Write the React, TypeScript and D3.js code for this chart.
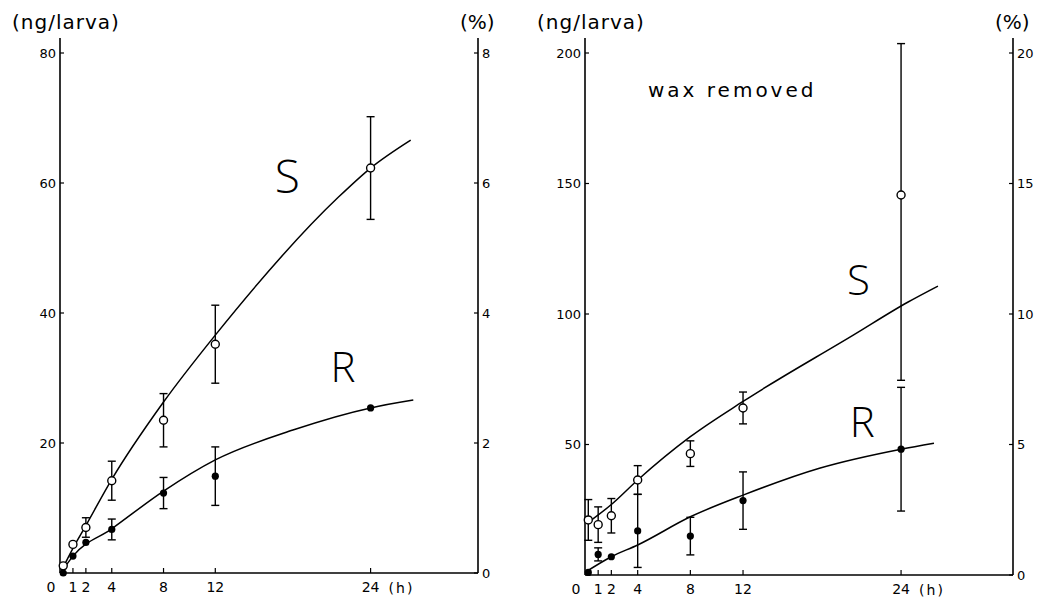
import * as d3 from "d3";

const hours = [0.25, 1, 2, 4, 8, 12, 24];

// left panel: intact larvae (ng/larva)
const intactS = [1.1, 4.4, 7.0, 14.2, 23.5, 35.2, 62.3];
const intactSErrUp = [0, 0, 1.5, 3.0, 4.1, 6.0, 7.9];
const intactSErrDown = [0, 0, 1.5, 3.0, 4.1, 6.0, 7.9];
const intactR = [0, 2.6, 4.7, 6.7, 12.3, 14.9, 25.4];
const intactRErrUp = [0, 0, 0, 1.6, 2.4, 4.5, 0];
const intactRErrDown = [0, 0, 0, 1.6, 2.4, 4.5, 0];

// fitted curves
const intactSFitT = [0.1, 1, 2, 4, 8, 12, 21.5, 24, 27.1];
const intactSFitV = [0.3, 3.8, 7.3, 14.4, 26.3, 36.6, 57.8, 62.3, 66.6];
const intactRFitT = [0.1, 1, 4, 8, 12, 18, 24, 27.3];
const intactRFitV = [0.1, 2.6, 6.8, 12.6, 17.4, 22, 25.4, 26.6];

// right panel: wax removed
const waxS = [21.1, 19.3, 22.7, 36.4, 46.5, 64, 145.6];
const waxSErrUp = [7.8, 6.8, 6.6, 5.5, 4.9, 6.1, 58];
const waxSErrDown = [7.8, 6.8, 6.6, 5.5, 4.9, 6.1, 71];
const waxR = [1, 7.9, 7.0, 16.9, 14.9, 28.5, 48.2];
const waxRErrUp = [0, 2.5, 0, 14, 7.2, 11, 23.7];
const waxRErrDown = [0, 2.5, 0, 14, 7.2, 11, 23.7];

const waxSFitT = [0.2, 2, 4, 8, 12, 20.4, 24.5, 26.8];
const waxSFitV = [20, 27, 36.4, 53, 66.5, 92, 104.5, 110.7];
const waxRFitT = [0, 2, 4, 8, 12, 17.8, 24, 26.5];
const waxRFitV = [1, 7, 11.5, 22.3, 30.6, 40.9, 48.2, 50.5];

const xTicks = [1, 2, 4, 8, 12, 24];
const intactLeftTicks = [20, 40, 60, 80];
const intactPctTicks = [0, 2, 4, 6, 8];
const waxLeftTicks = [50, 100, 150, 200];
const waxPctTicks = [0, 5, 10, 15, 20];

const font = "'DejaVu Sans', sans-serif";
const letterFont = "'Open Sans', 'DejaVu Sans', sans-serif";

function ErrorBars({ x, y, t, v, up, down }) {
  return (
    <g stroke="#000" strokeWidth={1.4}>
      {t.map((d, i) => {
        if (!up[i] && !down[i]) return null;
        const cx = x(d);
        const y1 = y(v[i] + up[i]);
        const y2 = y(v[i] - down[i]);
        return (
          <g key={i}>
            <line x1={cx} x2={cx} y1={y1} y2={y2} />
            <line x1={cx - 4} x2={cx + 4} y1={y1} y2={y1} />
            <line x1={cx - 4} x2={cx + 4} y1={y2} y2={y2} />
          </g>
        );
      })}
    </g>
  );
}

function Panel({ g, yMax, pctMax, leftTicks, pctTicks, s, sUp, sDown, r, rUp, rDown, sFit, rFit, labels, children }) {
  const x = d3.scaleLinear().domain([0, g.xMax]).range([g.left, g.right]);
  const y = d3.scaleLinear().domain([0, yMax]).range([g.bottom, g.yTop]);
  const yp = d3.scaleLinear().domain([0, pctMax]).range([g.bottom, g.yTop]);
  const line = d3
    .line<[number, number]>()
    .x((d) => x(d[0]))
    .y((d) => y(d[1]))
    .curve(d3.curveMonotoneX);
  const fitPts = (tt, vv) => tt.map((d, i) => [d, vv[i]] as [number, number]);

  return (
    <g>
      {/* axes */}
      <g stroke="#000" strokeWidth={1.6} fill="none">
        <line x1={g.left} x2={g.left} y1={g.top} y2={g.bottom} />
        <line x1={g.right} x2={g.right} y1={g.top} y2={g.bottom} />
        <line x1={g.left} x2={g.right} y1={g.bottom} y2={g.bottom} />
      </g>
      <g stroke="#000" strokeWidth={1.2}>
        {leftTicks.map((d) => (
          <line key={d} x1={g.left} x2={g.left + 4} y1={y(d)} y2={y(d)} />
        ))}
        {pctTicks.map((d) => (
          <line key={d} x1={g.right - 4} x2={g.right} y1={yp(d)} y2={yp(d)} />
        ))}
        {xTicks.map((d) => (
          <line key={d} x1={x(d)} x2={x(d)} y1={g.bottom} y2={g.bottom - 5} />
        ))}
      </g>
      <g fontFamily={font} fontSize={13} fill="#000">
        {leftTicks.map((d) => (
          <text key={d} x={g.left - 4} y={y(d)} dy="0.35em" textAnchor="end">
            {d}
          </text>
        ))}
        {pctTicks.map((d) => (
          <text key={d} x={g.right + 4} y={yp(d)} dy="0.35em">
            {d}
          </text>
        ))}
        <text x={g.left - 9} y={g.bottom + 19} textAnchor="middle" fontSize={14}>0</text>
        {xTicks.map((d) => (
          <text key={d} x={x(d)} y={g.bottom + 19} textAnchor="middle" fontSize={14}>
            {d}
          </text>
        ))}
        <text x={x(24) + 18} y={g.bottom + 20} fontSize={14} letterSpacing={2}>(h)</text>
      </g>
      <g fontFamily={font} fontSize={20} fill="#000">
        <text x={g.left - 48} y={g.top - 9} letterSpacing={1}>(ng/larva)</text>
        <text x={g.right - 18} y={g.top - 9}>(%)</text>
      </g>

      {/* fitted curves */}
      <path d={line(fitPts(sFit[0], sFit[1]))} fill="none" stroke="#000" strokeWidth={1.5} />
      <path d={line(fitPts(rFit[0], rFit[1]))} fill="none" stroke="#000" strokeWidth={1.5} />

      <ErrorBars x={x} y={y} t={hours} v={s} up={sUp} down={sDown} />
      <ErrorBars x={x} y={y} t={hours} v={r} up={rUp} down={rDown} />

      {hours.map((d, i) => (
        <circle key={"s" + i} cx={x(d)} cy={y(s[i])} r={4} fill="#fff" stroke="#000" strokeWidth={1.4} />
      ))}
      {hours.map((d, i) => (
        <circle key={"r" + i} cx={x(d)} cy={y(r[i])} r={3.6} fill="#000" />
      ))}

      <g fontFamily={letterFont} fontWeight={300} fill="#000">
        <text x={x(labels.s[0])} y={y(labels.s[1])} fontSize={labels.s[2]}>S</text>
        <text x={x(labels.r[0])} y={y(labels.r[1])} fontSize={42}>R</text>
      </g>
      {children}
    </g>
  );
}

export default function App() {
  const left = { left: 60, right: 478, top: 38, bottom: 573, yTop: 53, xMax: 32.3 };
  const right = { left: 585, right: 1013, top: 38, bottom: 575, yTop: 53, xMax: 32.5 };
  return (
    <svg
      width={1039}
      height={600}
      style={{ position: "absolute", left: 0, top: 0, background: "#fff" }}
    >
      <Panel
        g={left}
        yMax={80}
        pctMax={8}
        leftTicks={intactLeftTicks}
        pctTicks={intactPctTicks}
        s={intactS}
        sUp={intactSErrUp}
        sDown={intactSErrDown}
        r={intactR}
        rUp={intactRErrUp}
        rDown={intactRErrDown}
        sFit={[intactSFitT, intactSFitV]}
        rFit={[intactRFitT, intactRFitV]}
        labels={{ s: [16.6, 58.5, 46], r: [20.9, 29.4] }}
      />
      <Panel
        g={right}
        yMax={200}
        pctMax={20}
        leftTicks={waxLeftTicks}
        pctTicks={waxPctTicks}
        s={waxS}
        sUp={waxSErrUp}
        sDown={waxSErrDown}
        r={waxR}
        rUp={waxRErrUp}
        rDown={waxRErrDown}
        sFit={[waxSFitT, waxSFitV]}
        rFit={[waxRFitT, waxRFitV]}
        labels={{ s: [19.9, 107.3, 42], r: [20.1, 52.9] }}
      >
        <text x={648} y={97} fontFamily={font} fontSize={20} letterSpacing={3} fill="#000">
          wax removed
        </text>
      </Panel>
    </svg>
  );
}
